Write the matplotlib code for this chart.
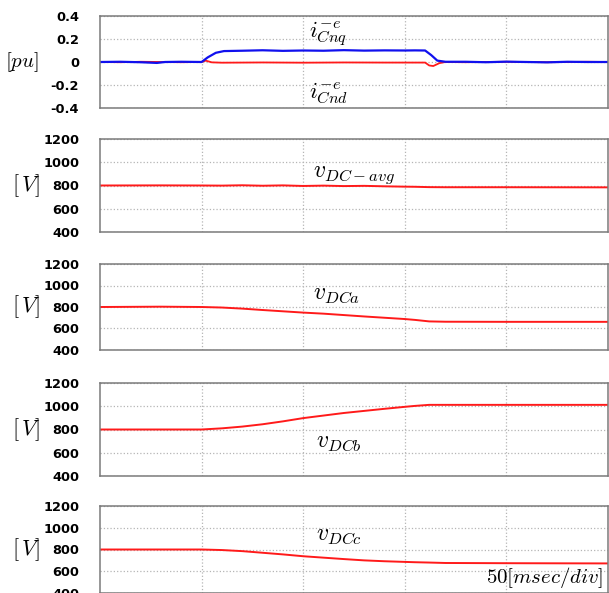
import matplotlib
matplotlib.use('Agg')
import matplotlib.pyplot as plt

plt.rcParams['mathtext.fontset'] = 'cm'

# time axis in msec (5 divisions of 50 msec)
t_end = 250
div_ticks = [50, 100, 150, 200]

# negative sequence currents [pu]
iq_t = [0, 10, 20, 28, 32, 40, 50, 53, 57, 61, 70, 80, 90, 100, 110, 120,
        130, 140, 150, 155, 160, 163, 166, 170, 180, 190, 200, 210, 220,
        230, 240, 250]
iq = [0.0, 0.002, -0.002, -0.008, 0.0, 0.002, 0.0, 0.04, 0.08, 0.095, 0.098,
      0.102, 0.097, 0.1, 0.098, 0.103, 0.099, 0.101, 0.1, 0.101, 0.1, 0.06,
      0.012, 0.002, 0.002, -0.002, 0.003, 0.0, -0.003, 0.002, 0.0, 0.0]
id_t = [0, 10, 20, 30, 40, 50, 52, 55, 60, 80, 100, 120, 140, 160, 162,
        164, 167, 170, 180, 200, 220, 240, 250]
id_ = [0.0, -0.002, 0.002, 0.0, -0.002, 0.0, 0.012, -0.003, -0.006, -0.004,
       -0.006, -0.004, -0.005, -0.005, -0.03, -0.035, -0.01, 0.0, -0.002,
       0.002, -0.002, 0.002, 0.0]

# DC link voltages [V]
v_t = [0, 30, 50, 60, 70, 80, 90, 100, 110, 120, 130, 140, 150, 155, 162,
       170, 200, 250]
v_avg = [800, 801, 800, 799, 802, 798, 801, 796, 799, 795, 797, 793, 790,
         789, 786, 785, 785, 784]
v_a = [800, 803, 800, 795, 785, 772, 760, 748, 738, 725, 712, 700, 688,
       680, 666, 663, 662, 662]
v_b = [800, 800, 800, 810, 825, 845, 870, 898, 920, 942, 960, 978, 995,
       1003, 1012, 1012, 1012, 1012]
v_c = [800, 800, 800, 795, 785, 770, 755, 738, 725, 712, 700, 692, 686,
       683, 680, 676, 674, 672]

pu_ticks = [-0.4, -0.2, 0, 0.2, 0.4]
pu_labels = ['-0.4', '-0.2', '0', '0.2', '0.4']
v_ticks = [400, 600, 800, 1000, 1200]

W, H = 609, 593
fig = plt.figure(figsize=(W / 100, H / 100), dpi=100)

# (top, bottom) of each panel in pixels
panels = [(16, 108), (139, 232), (264, 350), (383, 476), (506, 593)]
left_px, right_px = 100, 608

RED = '#ff1a1a'
BLUE = '#1010ee'

axes = []
for top, bot in panels:
    ax = fig.add_axes([left_px / W, 1 - bot / H, (right_px - left_px) / W,
                       (bot - top) / H])
    ax.set_xlim(0, t_end)
    ax.set_xticks(div_ticks)
    ax.tick_params(axis='x', length=0, labelbottom=False)
    ax.tick_params(axis='y', length=0, pad=15)
    ax.grid(True, color='#b5b5b5', linestyle=':', linewidth=0.9)
    for sp in ax.spines.values():
        sp.set_color('#7a7a7a')
        sp.set_linewidth(1.1)
    axes.append(ax)

tick_font = dict(family='DejaVu Sans', weight='bold', size=9.3)

ax = axes[0]
ax.plot(id_t, id_, color=RED, lw=1.3)
ax.plot(iq_t, iq, color=BLUE, lw=1.6)
ax.set_ylim(-0.4, 0.4)
ax.set_yticks(pu_ticks)
ax.set_yticklabels(pu_labels, **tick_font)
ax.text(0.45, 0.8, r'$i_{Cnq}^{-e}$', transform=ax.transAxes,
        fontsize=16.5, ha='center', va='center')
ax.text(0.45, 0.16, r'$i_{Cnd}^{-e}$', transform=ax.transAxes,
        fontsize=16.5, ha='center', va='center')
fig.text(22 / W, 1 - 62 / H, r'$[pu]$', fontsize=15, ha='center',
         va='center')

series = [v_avg, v_a, v_b, v_c]
names = [r'$v_{DC-avg}$', r'$v_{DCa}$', r'$v_{DCb}$', r'$v_{DCc}$']
name_pos = [(0.5, 0.62), (0.465, 0.66), (0.47, 0.38), (0.47, 0.68)]
for ax, vals, name, pos, (top, bot) in zip(axes[1:], series, names,
                                           name_pos, panels[1:]):
    ax.plot(v_t, vals, color=RED, lw=1.4)
    ax.set_ylim(400, 1200)
    ax.set_yticks(v_ticks)
    ax.set_yticklabels([str(v) for v in v_ticks], **tick_font)
    ax.text(pos[0], pos[1], name, transform=ax.transAxes, fontsize=17,
            ha='center', va='center')
    fig.text(26 / W, 1 - (top + (bot - top) / 2) / H, r'$[\,V]$',
             fontsize=16, ha='center', va='center')

axes[-1].text(0.99, 0.04, r'$50[msec/div]$', transform=axes[-1].transAxes,
              fontsize=15, ha='right', va='bottom')

fig.savefig('out.png', dpi=100)
